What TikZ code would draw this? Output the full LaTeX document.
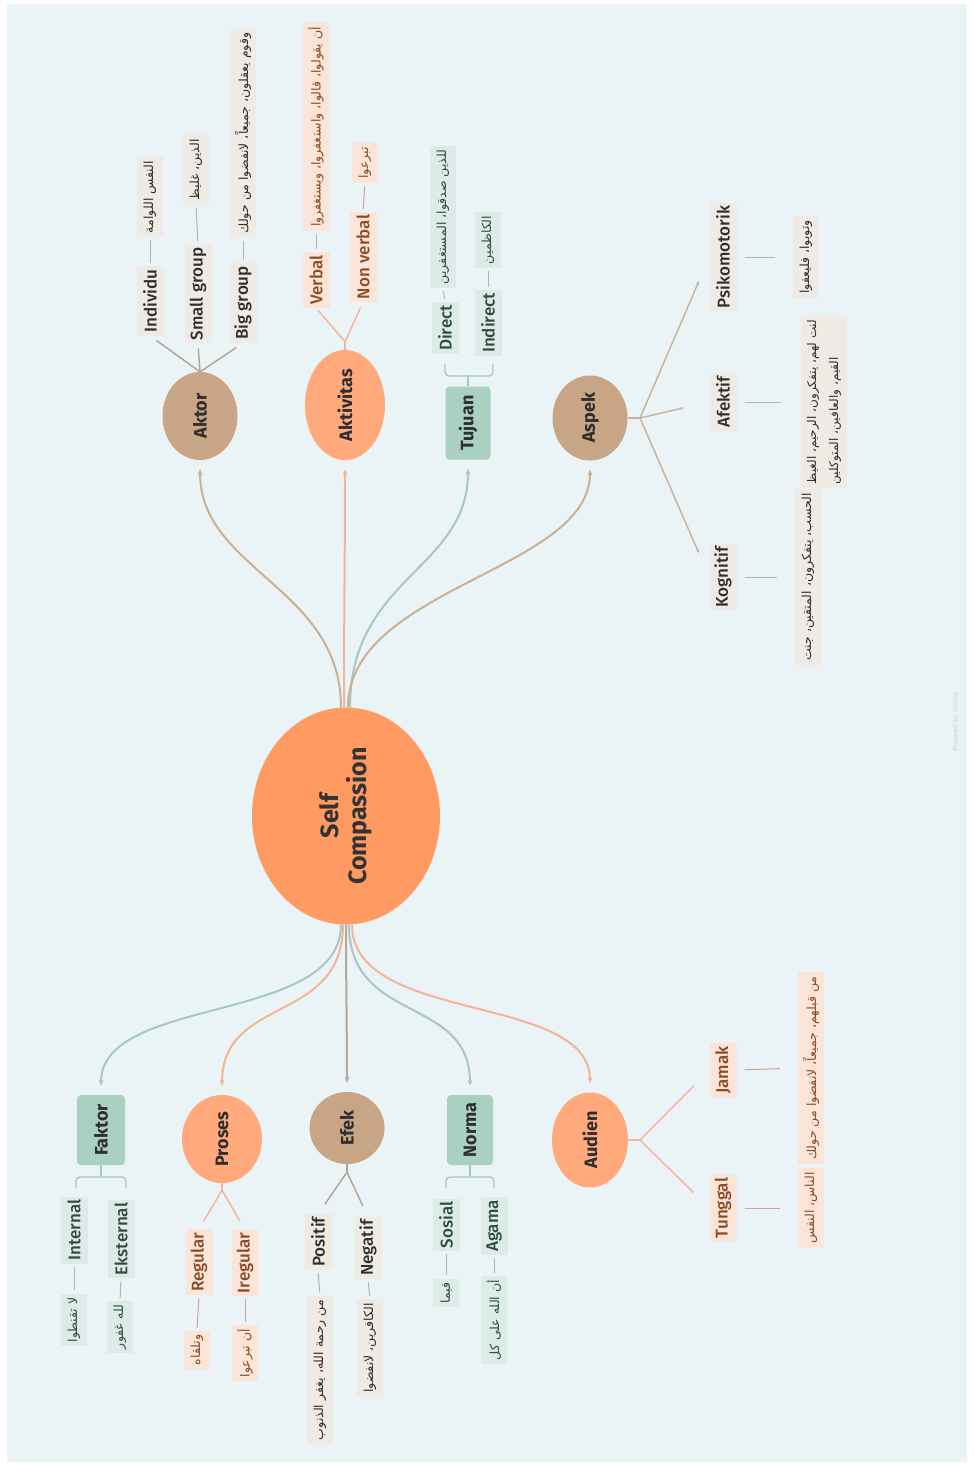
\documentclass[tikz,border=0pt]{standalone}
\usepackage{fontspec}
\setmainfont{Fira Sans}
\newfontfamily\labfont{Fira Sans Medium}
\newfontfamily\arabicfont[Script=Arabic]{DejaVu Sans}
\TeXXeTstate=1
\usetikzlibrary{shapes.geometric,arrows.meta,calc}
\definecolor{bgc}{HTML}{EAF3F6}
\definecolor{cOr}{HTML}{FF9B62}
\definecolor{cOrL}{HTML}{FFA97C}
\definecolor{cTan}{HTML}{C8A585}
\definecolor{cGr}{HTML}{A9D0C0}
\definecolor{lnTan}{HTML}{C9B196}
\definecolor{lnOr}{HTML}{F6B496}
\definecolor{lnGr}{HTML}{A6C8C2}
\definecolor{lnGy}{HTML}{B4B4B0}
\definecolor{fTan}{HTML}{EFEAE3}
\definecolor{fOr}{HTML}{FAE5D8}
\definecolor{fGr}{HTML}{DDEBE7}
\definecolor{tBr}{HTML}{8B4A22}
\definecolor{tDk}{HTML}{2E2E2E}
\definecolor{tGr}{HTML}{2F4A44}
\tikzset{
  lab/.style={rotate=90, inner xsep=3pt, inner ysep=1pt, minimum height=27pt, font=\labfont\fontsize{17}{19}\selectfont},
  arb/.style={rotate=90, inner xsep=4pt, inner ysep=2pt, minimum height=26pt, font=\arabicfont\fontsize{12.5}{17}\selectfont},
  labT/.style={lab, fill=fTan, text=tDk},
  labO/.style={lab, fill=fOr, text=tBr},
  labG/.style={lab, fill=fGr, text=tGr},
  arbT/.style={arb, fill=fTan, text=tDk},
  arbO/.style={arb, fill=fOr, text=tBr},
  arbG/.style={arb, fill=fGr, text=tGr},
  mainnode/.style={rotate=90, inner sep=0pt, font=\bfseries\fontsize{18}{20}\selectfont, text=tDk},
  circT/.style={mainnode, ellipse, fill=cTan},
  circO/.style={mainnode, ellipse, fill=cOrL},
  boxG/.style={mainnode, rectangle, rounded corners=4pt, fill=cGr},
  conn/.style={line width=2pt, -{Stealth[length=6pt,width=5pt]}, shorten >=9pt},
  fanln/.style={line width=1.4pt},
  linkln/.style={line width=1pt, lnGy, shorten <=3pt, shorten >=3pt},
}
\begin{document}
\begin{tikzpicture}[x=1pt,y=-1pt]
\useasboundingbox (0,0) rectangle (974,1467);
\fill[white] (0,0) rectangle (974,1467);
\fill[bgc] (7,4) rectangle (967,1462);

% center
\node[mainnode, ellipse, fill=cOr, minimum width=217pt, minimum height=188pt,
      font=\bfseries\fontsize{25}{28}\selectfont, align=center, text=black!80] (sc) at (346,816) {Self\\Compassion};

% main topics
\node[circT, minimum width=88pt, minimum height=75pt] (aktor) at (200,416) {Aktor};
\node[circO, minimum width=110pt, minimum height=80pt] (akt) at (345,405) {Aktivitas};
\node[boxG, minimum width=73pt, minimum height=45pt] (tuj) at (468,423) {Tujuan};
\node[circT, minimum width=85pt, minimum height=75pt] (asp) at (590,418) {Aspek};
\node[boxG, minimum width=70pt, minimum height=48pt] (fak) at (101,1130) {Faktor};
\node[circO, minimum width=88pt, minimum height=80pt] (pro) at (222,1139) {Proses};
\node[circT, minimum width=72pt, minimum height=75pt] (efk) at (347,1128) {Efek};
\node[boxG, minimum width=70pt, minimum height=46pt] (nor) at (470,1130) {Norma};
\node[circO, minimum width=95pt, minimum height=76pt] (aud) at (590,1140) {Audien};

% main connectors
\draw[conn, lnTan] ($(sc.east)+(-5,0)$) .. controls +(0,-120) and +(0,110) .. (aktor.west);
\draw[conn, lnOr] ($(sc.east)+(-2,0)$) .. controls +(0,-100) and +(0,100) .. (akt.west);
\draw[conn, lnGr] ($(sc.east)+(4,0)$) .. controls +(0,-130) and +(0,110) .. (tuj.west);
\draw[conn, lnTan] ($(sc.east)+(2,0)$) .. controls +(0,-120) and +(0,110) .. (asp.west);
\draw[conn, lnGr] ($(sc.west)+(-5,0)$) .. controls +(0,100) and +(0,-100) .. (fak.east);
\draw[conn, lnOr] ($(sc.west)+(-3,0)$) .. controls +(0,100) and +(0,-100) .. (pro.east);
\draw[conn, lnTan!80!gray] (sc.west) .. controls +(0,60) and +(0,-60) .. (efk.east);
\draw[conn, lnGr] ($(sc.west)+(3,0)$) .. controls +(0,100) and +(0,-100) .. (nor.east);
\draw[conn, lnOr] ($(sc.west)+(6,0)$) .. controls +(0,100) and +(0,-100) .. (aud.east);

% Aktor children
\node[labT] (ind) at (150,301) {Individu};
\node[labT] (sg) at (198,294) {Small group};
\node[labT] (bgp) at (243,303) {Big group};
\node[arbT] (ar1) at (150,197) {\beginR النفس اللوامة\endR};
\node[arbT] (ar2) at (196,170) {\beginR الذين، غليظ\endR};
\node[arbT] (ar3) at (243,133) {\beginR وقوم يعقلون، جميعاً، لانفضوا من حولك\endR};
\draw[fanln, lnTan!70!gray, shorten >=8pt] (aktor.east) -- (ind.west);
\draw[fanln, lnTan!70!gray, shorten >=5pt] (aktor.east) -- (sg.west);
\draw[fanln, lnTan!70!gray, shorten >=8pt] (aktor.east) -- (bgp.west);
\draw[linkln] (ind.east) -- (ar1.west);
\draw[linkln] (sg.east) -- (ar2.west);
\draw[linkln] (bgp.east) -- (ar3.west);

% Aktivitas children
\node[labO] (verb) at (316,280) {Verbal};
\node[labO] (nverb) at (363,257) {Non verbal};
\node[arbO] (ar4) at (316,127) {\beginR أن يقولوا، قالوا، واستغفروا، ويستغفروا\endR};
\node[arbO] (ar5) at (365,163) {\beginR تبرعوا\endR};
\coordinate (akv) at ($(akt.east)+(0,-8)$);
\draw[fanln, lnOr] (akt.east) -- (akv);
\draw[fanln, lnOr, shorten >=3pt] (akv) -- (verb.west);
\draw[fanln, lnOr, shorten >=6pt] (akv) -- (nverb.west);
\draw[linkln, lnOr!70!gray] (verb.east) -- (ar4.west);
\draw[linkln, lnOr!70!gray] (nverb.east) -- (ar5.west);

% Tujuan children
\node[labG] (dir) at (445,328) {Direct};
\node[labG] (indir) at (488,323) {Indirect};
\node[arbG] (ar6) at (443,217) {\beginR للذين صدقوا، المستغفرين\endR};
\node[arbG] (ar7) at (488,240) {\beginR الكاظمين\endR};
\draw[fanln, lnGr] (tuj.east) -- ($(tuj.east)+(0,-11)$);
\draw[fanln, lnGr, rounded corners=4pt] (445,364) -- (445,376) -- (493,376) -- (493,364);
\draw[linkln] (dir.east) -- (ar6.west);
\draw[linkln] (indir.east) -- (ar7.west);

% Aspek children
\coordinate (aj) at (640,418);
\node[labT] (psi) at (723,257) {Psikomotorik};
\node[labT] (afe) at (723,402) {Afektif};
\node[labT] (kog) at (723,577) {Kognitif};
\node[arbT] (ar8) at (806,257) {\beginR وتوبوا، فليعفوا\endR};
\node[arbT, align=left, font=\arabicfont\fontsize{12}{22}\selectfont, inner ysep=6pt] (ar9) at (824,402) {\beginR لنت لهم، يتفكرون، الرحيم، الغيظ\endR\\\beginR القيم، والعافين، المتوكلين\endR};
\node[arbT] (ar10) at (808,577) {\beginR الحسب، يتفكرون، المتقين، جنت\endR};
\draw[fanln, lnTan] (asp.south) -- (aj);
\draw[fanln, lnTan, -{Stealth[length=4pt,width=3pt]}, shorten >=26pt] (aj) -- (psi.north);
\draw[fanln, lnTan, -{Stealth[length=4pt,width=3pt]}, shorten >=26pt] (aj) -- (afe.north);
\draw[fanln, lnTan, -{Stealth[length=4pt,width=3pt]}, shorten >=26pt] (aj) -- (kog.north);
\draw[linkln, shorten <=8pt, shorten >=18pt] (psi.south) -- (ar8.north);
\draw[linkln, shorten <=8pt, shorten >=20pt] (afe.south) -- (ar9.north);
\draw[linkln, shorten <=8pt, shorten >=18pt] (kog.south) -- (ar10.north);

% Faktor children
\node[labG] (int) at (74,1230) {Internal};
\node[labG] (eks) at (121,1239) {Eksternal};
\node[arbG] (ar11) at (74,1320) {\beginR لا تقنطوا\endR};
\node[arbG] (ar12) at (120,1327) {\beginR لله غفور\endR};
\draw[fanln, lnGr] (fak.west) -- ($(fak.west)+(0,12)$);
\draw[fanln, lnGr, rounded corners=4pt] (76,1188) -- (76,1177) -- (126,1177) -- (126,1188);
\draw[linkln] (int.west) -- (ar11.east);
\draw[linkln] (eks.west) -- (ar12.east);

% Proses children
\node[labO] (reg) at (199,1262) {Regular};
\node[labO] (ireg) at (245,1263) {Iregular};
\node[arbO] (ar13) at (197,1350) {\beginR وتلقاه\endR};
\node[arbO] (ar14) at (245,1353) {\beginR أن تبرعوا\endR};
\coordinate (prv) at ($(pro.west)+(0,7)$);
\draw[fanln, lnOr] (pro.west) -- (prv);
\draw[fanln, lnOr, shorten >=9pt] (prv) -- (reg.east);
\draw[fanln, lnOr, shorten >=10pt] (prv) -- (ireg.east);
\draw[linkln, lnOr!70!gray] (reg.west) -- (ar13.east);
\draw[linkln, lnOr!70!gray] (ireg.west) -- (ar14.east);

% Efek children
\node[labT] (pos) at (318,1242) {Positif};
\node[labT] (neg) at (368,1248) {Negatif};
\node[arbT] (ar15) at (320,1370) {\beginR من رحمة الله، يغفر الذنوب\endR};
\node[arbT] (ar16) at (370,1348) {\beginR الكافرين، لانفضوا\endR};
\coordinate (efv) at ($(efk.west)+(0,8)$);
\draw[fanln, lnTan!70!gray] (efk.west) -- (efv);
\draw[fanln, lnTan!70!gray, shorten >=12pt] (efv) -- (pos.east);
\draw[fanln, lnTan!70!gray, shorten >=12pt] (efv) -- (neg.east);
\draw[linkln] (pos.west) -- (ar15.east);
\draw[linkln] (neg.west) -- (ar16.east);

% Norma children
\node[labG] (sos) at (446,1225) {Sosial};
\node[labG] (aga) at (494,1226) {Agama};
\node[arbG] (ar17) at (446,1293) {\beginR فيما\endR};
\node[arbG] (ar18) at (494,1320) {\beginR أن الله على كل\endR};
\draw[fanln, lnGr] (nor.west) -- ($(nor.west)+(0,12)$);
\draw[fanln, lnGr, rounded corners=4pt] (446,1188) -- (446,1177) -- (494,1177) -- (494,1188);
\draw[linkln] (sos.west) -- (ar17.east);
\draw[linkln] (aga.west) -- (ar18.east);

% Audien children
\coordinate (auj) at (640,1140);
\node[labO] (jam) at (723,1070) {Jamak};
\node[labO] (tun) at (723,1208) {Tunggal};
\node[arbO] (ar19) at (811,1068) {\beginR من قبلهم، جميعاً، لانفضوا من حولك\endR};
\node[arbO] (ar20) at (811,1208) {\beginR الناس، النفس\endR};
\draw[fanln, lnOr] (aud.south) -- (auj);
\draw[fanln, lnOr, shorten >=22pt] (auj) -- (jam.north);
\draw[fanln, lnOr, shorten >=22pt] (auj) -- (tun.north);
\draw[linkln, lnOr!70!gray, shorten <=8pt, shorten >=18pt] (jam.south) -- (ar19.north);
\draw[linkln, lnOr!70!gray, shorten <=8pt, shorten >=18pt] (tun.south) -- (ar20.north);

% watermark
\node[rotate=90, font=\fontsize{7}{8}\selectfont, text=black!18] (wm) at (956,722) {Powered by Xmind};
\end{tikzpicture}
\end{document}
